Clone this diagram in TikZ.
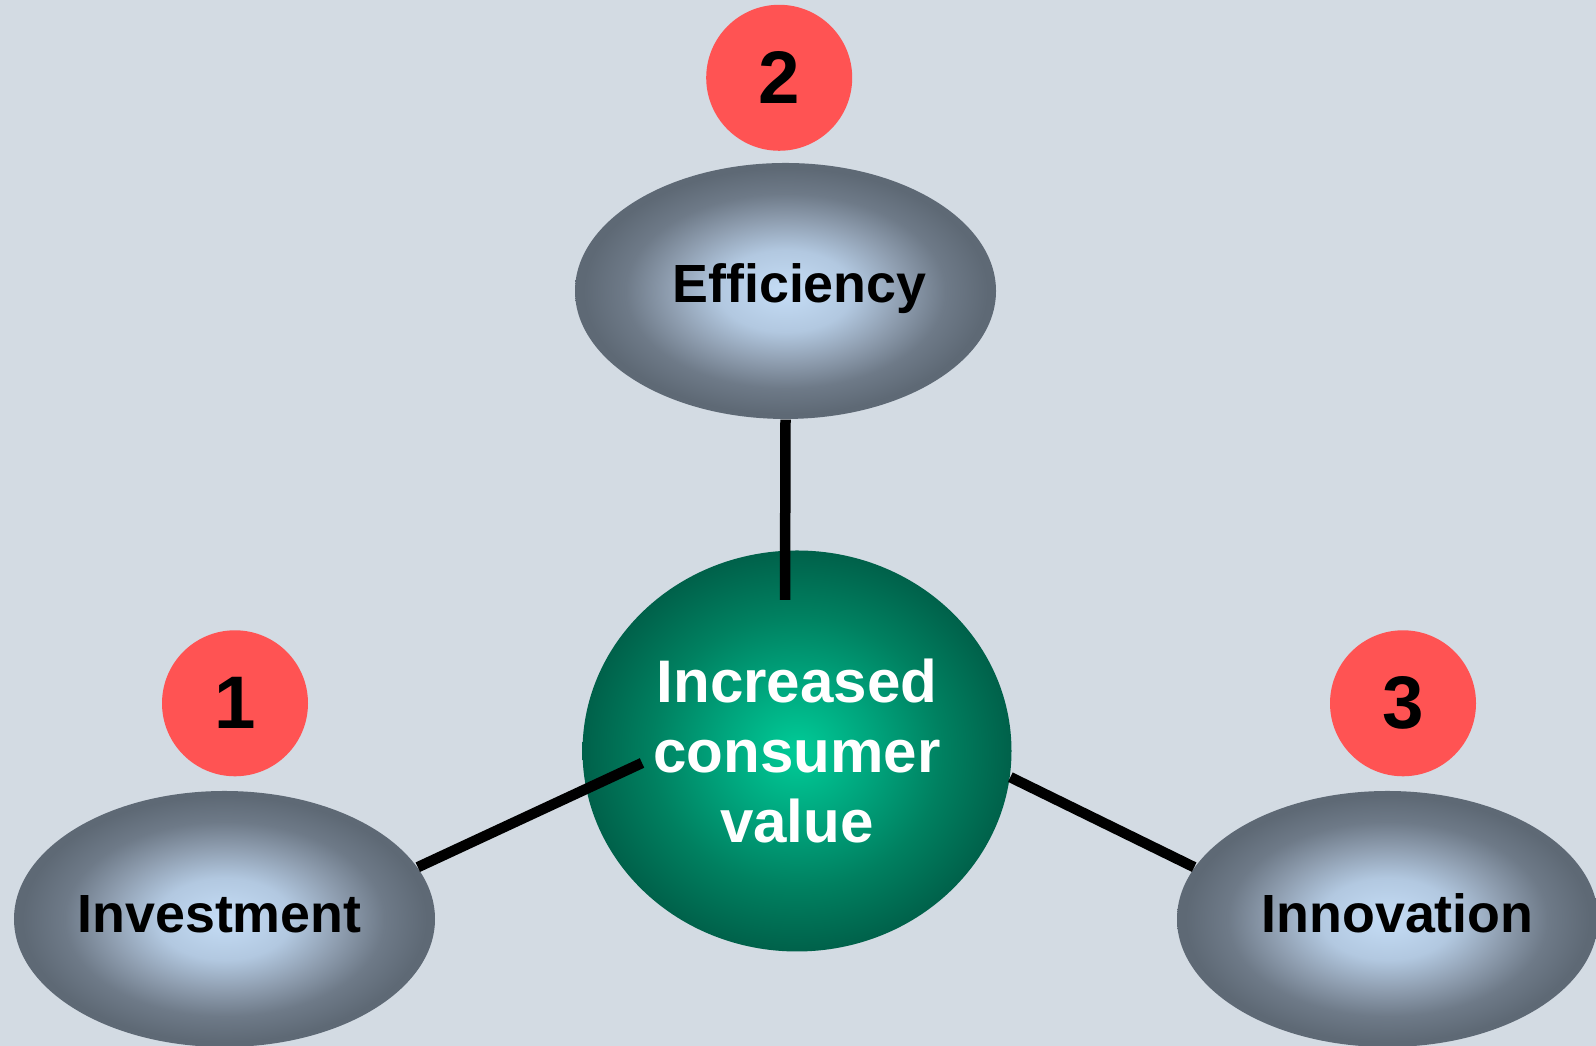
\documentclass[tikz,border=0pt]{standalone}
\usepackage{fontspec}
\setmainfont{Liberation Sans}
\usetikzlibrary{shapes.geometric}
\definecolor{bg}{HTML}{D3DBE3}
\definecolor{numred}{HTML}{FF5353}
\definecolor{g0}{HTML}{C5DDF6}
\definecolor{g1}{HTML}{B2C8E0}
\definecolor{g2}{HTML}{8E9DAF}
\definecolor{g3}{HTML}{6E7A88}
\definecolor{g4}{HTML}{5E6975}
\definecolor{v0}{HTML}{00CC98}
\definecolor{v1}{HTML}{00A47C}
\definecolor{v2}{HTML}{008060}
\definecolor{v3}{HTML}{00614A}
\pgfdeclareradialshading{greyball}{\pgfpointorigin}{color(0bp)=(g0); color(8bp)=(g1); color(14bp)=(g2); color(19bp)=(g3); color(24bp)=(g4); color(50bp)=(g4)}
\pgfdeclareradialshading{greenball}{\pgfpointorigin}{color(0bp)=(v0); color(9bp)=(v1); color(17bp)=(v2); color(25bp)=(v3); color(50bp)=(v3)}
\begin{document}
\begin{tikzpicture}[
  oval/.style={ellipse, minimum width=4.21cm, minimum height=2.56cm, inner sep=0pt, draw=none, shade, shading=greyball},
  core/.style={ellipse, minimum width=4.29cm, minimum height=4.01cm, inner sep=0pt, draw=none, shade, shading=greenball,
    text=white, align=center, font=\bfseries\fontsize{17.1}{19.9}\selectfont},
  otext/.style={anchor=base, inner sep=0pt, text=black, font=\bfseries\fontsize{15.3}{18}\selectfont},
  numc/.style={circle, minimum size=1.46cm, inner sep=0pt, fill=numred, text=black, font=\bfseries\fontsize{21.2}{24}\selectfont},
  conn/.style={line width=0.105cm, black}
]
\fill[bg] (0,0) rectangle (15.96,10.46);
\useasboundingbox (0,0) rectangle (15.96,10.46);

\node[oval] (eff) at (7.855,7.55) {};
\node[oval] (inv) at (2.245,1.27) {};
\node[oval] (inn) at (13.875,1.27) {};
\node[core] (ctr) at (7.97,2.95) {Increased\\consumer\\value};

\node[otext] (efft) at (7.995,7.43) {Efficiency};
\node[otext] (invt) at (2.195,1.133) {Investment};
\node[otext] (innt) at (13.975,1.133) {Innovation};

\node[numc] (n1) at (2.35,3.427) {1};
\node[numc] (n2) at (7.792,9.682) {2};
\node[numc] (n3) at (14.03,3.427) {3};

\coordinate (cvtop) at (7.85,4.46);
\coordinate (cleft) at (6.42,2.83);
\draw[conn] (eff.south) -- (cvtop);
\draw[conn] (inv.15) -- (cleft);
\draw[conn] (ctr.-7.5) -- (inn.165);
\end{tikzpicture}
\end{document}
